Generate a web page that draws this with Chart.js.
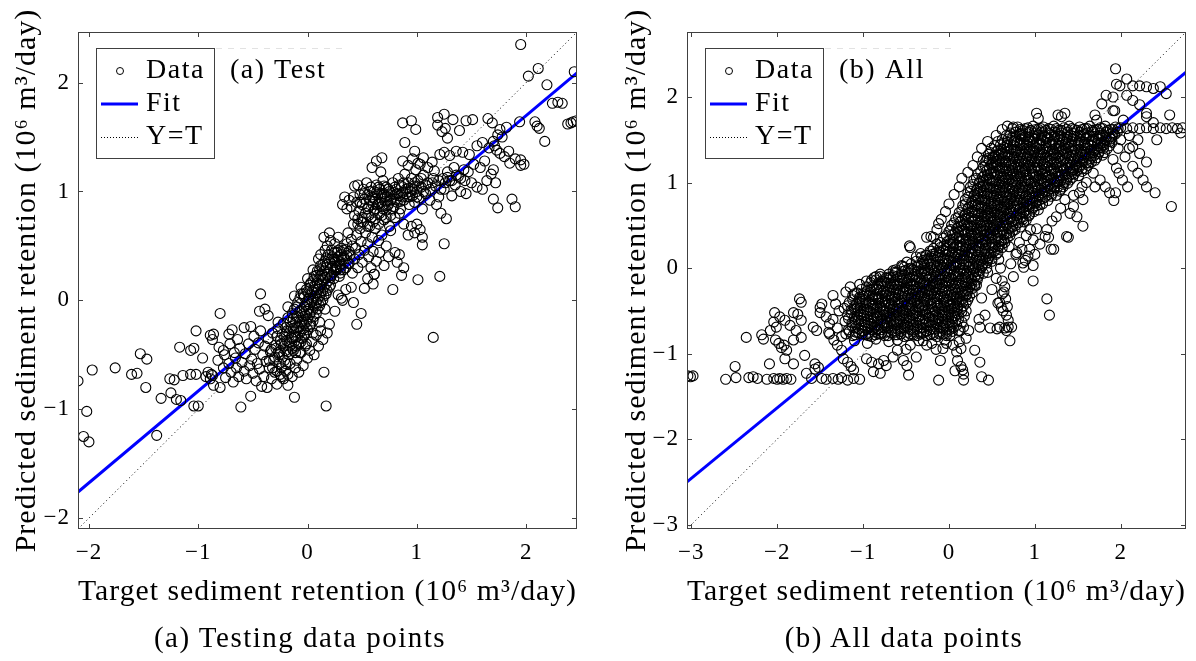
<!DOCTYPE html>
<html>
<head>
<meta charset="utf-8">
<script src="https://cdn.jsdelivr.net/npm/chart.js@4.4.0/dist/chart.umd.min.js"></script>
<style>
  html, body { margin: 0; padding: 0; background: #fff; }
  #wrap { position: relative; width: 1196px; height: 661px; overflow: hidden; }
  .pane { position: absolute; top: 0; width: 598px; height: 661px; }
  .cap { position: absolute; top: 621px; line-height: 33px; font-size: 29px; letter-spacing: 1.5px; font-family: 'Liberation Serif', 'DejaVu Serif', serif; color: #000; white-space: nowrap; transform: translateX(-50%); }
</style>
</head>
<body>
<div id="wrap">
  <div class="pane" style="left:0"><canvas id="testChart" width="598" height="661"></canvas></div>
  <div class="pane" style="left:598px"><canvas id="allChart" width="598" height="661"></canvas></div>
  <div class="cap" style="left:300px">(a) Testing data points</div>
  <div class="cap" style="left:904px">(b) All data points</div>
</div>
<script>
// ---------- (a) test set ----------
const testAxis = [-2.1, 2.465];          // axis equal, same limits on x and y
const testTicks = [-2, -1, 0, 1, 2];
const testFitY = [-1.76, 2.09];          // fit line at the two axis ends

const testTail = [[-2.10,-0.74],[-2.02,-1.02],[-2.05,-1.25],[-2.00,-1.30],[-1.97,-0.64],[-1.76,-0.62],[-1.61,-0.68],[-1.56,-0.67],[-1.53,-0.49],[-1.47,-0.54],[-1.48,-0.80],[-1.38,-1.24],[-1.34,-0.90],[-1.26,-0.72],[-1.22,-0.73],[-1.25,-0.85],[-1.20,-0.91],[-1.16,-0.92],[-1.17,-0.43],[-1.14,-0.69],[-1.07,-0.46],[-1.04,-0.44],[-1.04,-0.97],[-1.00,-0.97],[-1.07,-0.68],[-1.02,-0.68],[-1.02,-0.28],[-0.96,-0.53]];

const testLow = [[-0.93,-0.70],[-0.91,-0.66],[-0.89,-0.72],[-0.88,-0.68],[-0.87,-0.69],[-0.89,-0.32],[-0.87,-0.36],[-0.86,-0.31],[-0.86,-0.78],[-0.82,-0.55],[-0.80,-0.12],[-0.80,-0.80],[-0.81,-0.43],[-0.77,-0.46],[-0.77,-0.62],[-0.76,-0.50],[-0.75,-0.71],[-0.72,-0.31],[-0.72,-0.58],[-0.71,-0.40],[-0.70,-0.66],[-0.69,-0.27],[-0.68,-0.75],[-0.67,-0.48],[-0.66,-0.53],[-0.65,-0.62],[-0.64,-0.36],[-0.63,-0.70],[-0.62,-0.44],[-0.61,-0.98],[-0.60,-0.57],[-0.58,-0.25],[-0.58,-0.65],[-0.57,-0.49],[-0.56,-0.72],[-0.54,-0.40],[-0.53,-0.60],[-0.52,-0.24],[-0.52,-0.88],[-0.51,-0.54],[-0.50,-0.67],[-0.49,-0.33],[-0.48,-0.45],[-0.47,-0.74],[-0.46,-0.58],[-0.45,-0.39],[-0.44,-0.63],[-0.44,-0.10],[-0.43,0.06],[-0.43,-0.28],[-0.42,-0.79],[-0.41,-0.50],[-0.40,-0.70],[-0.39,-0.08],[-0.39,-0.42],[-0.38,-0.56],[-0.37,-0.80],[-0.36,-0.14],[-0.36,-0.35],[-0.35,-0.62],[-0.34,-0.47],[-0.33,-0.72],[-0.32,-0.30],[-0.31,-0.55],[-0.30,-0.66],[-0.29,-0.41],[-0.28,-0.77],[-0.27,-0.20],[-0.26,-0.50],[-0.25,-0.68],[-0.24,-0.62],[-0.22,-0.72],[-0.20,-0.65],[-0.18,-0.78],[-0.16,-0.58],[-0.14,-0.70],[-0.12,-0.89],[-0.11,-0.62],[-0.10,-0.55],[-0.08,-0.66],[-0.06,-0.48],[-0.04,-0.60],[-0.02,-0.42],[0.00,-0.53],[0.02,-0.46],[0.04,-0.38],[0.06,-0.50],[0.08,-0.32],[0.10,-0.42],[0.12,-0.28],[0.14,-0.36],[0.15,-0.66],[0.17,-0.97],[0.18,-0.30],[0.20,-0.22]];

const testCore = [[-0.30,-0.52],[-0.29,-0.44],[-0.28,-0.33],[-0.27,-0.26],[-0.26,-0.58],[-0.25,-0.47],[-0.24,-0.40],[-0.23,-0.31],[-0.22,-0.21],[-0.21,-0.55],[-0.20,-0.46],[-0.19,-0.37],[-0.19,-0.28],[-0.18,-0.16],[-0.17,-0.50],[-0.16,-0.42],[-0.15,-0.34],[-0.15,-0.24],[-0.14,-0.12],[-0.13,-0.46],[-0.12,-0.38],[-0.12,-0.29],[-0.11,-0.20],[-0.10,-0.06],[-0.10,-0.42],[-0.09,-0.33],[-0.08,-0.25],[-0.08,-0.15],[-0.07,0.02],[-0.06,-0.38],[-0.06,-0.28],[-0.05,-0.20],[-0.05,-0.10],[-0.04,0.06],[-0.03,-0.32],[-0.03,-0.22],[-0.02,-0.14],[-0.02,-0.04],[-0.01,0.10],[0.00,-0.27],[0.00,-0.17],[0.01,-0.08],[0.01,0.02],[0.02,0.14],[0.03,-0.22],[0.03,-0.11],[0.04,-0.01],[0.04,0.08],[0.05,0.18],[0.06,-0.15],[0.06,-0.05],[0.07,0.04],[0.07,0.13],[0.08,0.23],[0.09,-0.08],[0.09,0.01],[0.10,0.10],[0.10,0.19],[0.11,0.28],[0.12,-0.02],[0.12,0.07],[0.13,0.15],[0.13,0.24],[0.14,0.33],[0.15,0.04],[0.15,0.12],[0.16,0.21],[0.17,0.30],[0.17,0.39],[0.18,0.09],[0.19,0.18],[0.19,0.26],[0.20,0.35],[0.21,0.14],[0.22,0.23],[0.23,0.31],[0.23,0.40],[0.24,0.20],[0.26,0.28],[0.27,0.37],[0.28,0.46],[0.29,0.22],[0.30,0.33],[0.31,0.42],[0.33,0.28],[0.34,0.38],[0.35,0.47],[0.37,0.34],[0.39,0.42],[0.41,0.50],[-0.07,-0.48],[-0.01,-0.40],[0.05,-0.30],[0.11,-0.20],[0.16,-0.08],[-0.18,-0.06],[-0.12,0.04],[-0.06,0.12],[0.00,0.20],[0.05,0.28],[0.10,0.38],[0.16,0.46]];

const testCoreFill = [[-0.27,-0.48],[-0.25,-0.37],[-0.23,-0.52],[-0.22,-0.42],[-0.21,-0.33],[-0.20,-0.25],[-0.18,-0.47],[-0.17,-0.39],[-0.17,-0.30],[-0.16,-0.20],[-0.14,-0.44],[-0.14,-0.35],[-0.13,-0.26],[-0.13,-0.17],[-0.12,-0.08],[-0.11,-0.48],[-0.11,-0.34],[-0.10,-0.25],[-0.10,-0.15],[-0.09,-0.02],[-0.08,-0.40],[-0.07,-0.30],[-0.07,-0.20],[-0.07,-0.10],[-0.06,0.06],[-0.05,-0.35],[-0.04,-0.26],[-0.04,-0.15],[-0.03,-0.06],[-0.03,0.03],[-0.02,-0.30],[-0.01,-0.20],[-0.01,-0.10],[0.00,-0.01],[0.00,0.08],[0.02,-0.24],[0.02,-0.13],[0.02,-0.04],[0.03,0.05],[0.03,0.16],[0.05,-0.19],[0.05,-0.08],[0.05,0.02],[0.06,0.10],[0.06,0.22],[0.08,-0.12],[0.08,-0.02],[0.08,0.07],[0.09,0.16],[0.09,0.27],[0.11,-0.05],[0.11,0.04],[0.11,0.14],[0.12,0.22],[0.12,0.32],[0.14,0.00],[0.14,0.09],[0.14,0.19],[0.15,0.27],[0.16,0.36],[0.17,0.06],[0.17,0.15],[0.18,0.24],[0.18,0.33],[0.19,0.42],[0.20,0.12],[0.21,0.21],[0.21,0.29],[0.22,0.38],[0.24,0.26],[0.25,0.35],[0.25,0.44],[0.27,0.31],[0.28,0.40],[0.30,0.28],[0.32,0.37],[0.33,0.46],[0.36,0.41],[-0.35,-0.55],[-0.33,-0.45],[-0.32,-0.62],[-0.28,-0.65],[-0.24,-0.70],[-0.20,-0.58],[-0.18,-0.68]];

const testMid = [[0.12,0.42],[0.15,0.58],[0.18,0.50],[0.20,0.62],[0.21,0.55],[0.22,0.46],[0.24,0.38],[0.25,0.52],[0.26,0.30],[0.27,0.44],[0.28,0.58],[0.29,0.36],[0.30,0.25],[0.31,0.48],[0.32,0.88],[0.33,0.40],[0.34,0.95],[0.35,0.30],[0.36,0.52],[0.37,0.62],[0.38,0.45],[0.38,0.34],[0.40,0.56],[0.41,0.25],[0.42,0.70],[0.43,0.38],[0.44,0.48],[0.45,0.60],[0.46,0.75],[0.46,0.30],[0.47,0.42],[0.48,0.66],[0.49,0.54],[0.50,0.35],[0.51,0.72],[0.52,0.46],[0.53,0.62],[0.55,0.52],[0.56,0.40],[0.57,0.68],[0.58,0.30],[0.59,0.58],[0.60,0.45],[0.61,0.24],[0.62,0.66],[0.63,0.36],[0.65,0.55],[0.66,0.44],[0.68,0.60],[0.70,0.32],[0.72,0.50],[0.74,0.40],[0.76,0.64],[0.78,0.10],[0.80,0.44],[0.82,0.35],[0.84,0.42],[0.86,0.23],[0.88,0.30],[0.31,0.02],[0.32,0.00],[0.45,-0.22],[0.49,-0.12],[1.15,-0.34],[1.01,0.19],[1.21,0.22],[1.25,0.52],[1.05,0.51],[0.55,0.20],[0.60,0.15],[0.40,0.12],[0.35,0.10],[0.42,-0.02],[0.25,-0.10],[0.28,0.05],[0.52,0.11],[0.61,0.24]];

const testCluster = [[0.40,0.86],[0.42,0.95],[0.43,0.78],[0.45,0.90],[0.46,1.06],[0.47,0.82],[0.48,0.97],[0.49,0.72],[0.50,0.88],[0.51,1.02],[0.52,0.93],[0.53,0.80],[0.54,1.08],[0.55,0.97],[0.56,0.86],[0.57,0.92],[0.58,1.04],[0.58,0.76],[0.59,0.95],[0.60,0.88],[0.61,1.00],[0.62,0.84],[0.62,0.93],[0.63,1.06],[0.64,0.97],[0.65,0.89],[0.66,0.80],[0.66,1.02],[0.67,0.94],[0.68,0.86],[0.69,1.10],[0.70,0.98],[0.71,0.91],[0.72,0.83],[0.72,1.04],[0.73,0.95],[0.74,0.88],[0.75,1.00],[0.76,0.78],[0.77,0.93],[0.78,1.08],[0.79,0.86],[0.80,0.97],[0.81,1.02],[0.82,0.90],[0.83,1.12],[0.84,0.96],[0.85,0.84],[0.86,1.05],[0.87,0.99],[0.88,0.92],[0.89,1.16],[0.90,1.02],[0.91,0.95],[0.92,1.08],[0.93,0.88],[0.94,1.00],[0.95,1.12],[0.96,0.96],[0.97,1.05],[0.98,0.90],[0.99,1.20],[1.00,1.00],[1.01,1.10],[1.02,0.94],[1.03,1.25],[1.04,1.04],[1.05,0.84],[1.06,1.15],[1.08,0.98],[1.10,1.08],[0.95,0.68],[1.00,0.70],[1.03,0.65],[1.05,0.58],[0.88,0.70],[0.92,0.60],[0.98,0.62],[0.46,0.70],[0.50,0.76],[0.55,0.68],[0.60,0.72],[0.65,0.70],[0.70,0.74],[0.75,0.68],[0.80,0.76],[0.36,0.84],[0.38,0.92],[0.43,1.05]];

const testClusterFill = [[0.48,0.90],[0.52,0.98],[0.55,0.84],[0.57,1.00],[0.60,0.94],[0.61,0.82],[0.63,0.99],[0.64,0.88],[0.65,1.04],[0.67,0.90],[0.68,0.98],[0.69,0.84],[0.70,1.05],[0.71,0.95],[0.73,0.87],[0.74,1.02],[0.76,0.92],[0.77,0.98],[0.78,0.84],[0.80,1.04],[0.81,0.93],[0.82,0.98],[0.84,1.06],[0.85,0.91],[0.87,0.95],[0.88,1.08],[0.90,0.98],[0.92,1.03],[0.93,0.95],[0.96,1.02],[0.98,1.08],[1.00,0.95],[1.02,1.05],[1.04,1.12],[1.06,1.00],[1.08,1.06],[1.12,1.02],[1.14,1.08],[1.17,1.05],[1.20,1.10],[1.22,1.02],[1.26,1.08],[1.28,1.13],[1.32,1.10],[1.36,1.15],[1.40,1.12],[1.44,1.10],[0.56,0.78],[0.62,0.75],[0.68,0.78],[0.72,0.76],[0.84,0.80]];

const testUpper = [[0.87,1.63],[0.95,1.65],[0.99,1.57],[0.89,1.45],[0.98,1.37],[0.63,1.28],[0.68,1.31],[0.59,1.22],[0.67,1.18],[0.87,1.28],[0.92,1.24],[0.96,1.30],[1.01,1.26],[1.06,1.31],[1.10,1.22],[1.14,1.27],[1.16,1.19],[1.19,1.68],[1.25,1.71],[1.33,1.66],[1.39,1.56],[1.45,1.65],[1.51,1.66],[1.65,1.67],[1.69,1.63],[1.76,1.57],[1.82,1.59],[1.94,1.64],[1.19,1.61],[1.23,1.55],[1.28,1.49],[1.26,1.58],[1.21,1.34],[1.25,1.36],[1.30,1.33],[1.36,1.37],[1.42,1.36],[1.48,1.34],[1.55,1.42],[1.60,1.45],[1.66,1.40],[1.70,1.46],[1.73,1.38],[1.78,1.50],[1.80,1.32],[1.85,1.26],[1.90,1.30],[1.98,1.25],[1.74,1.52],[1.71,1.42],[1.76,1.35],[1.64,1.10],[1.68,1.16],[1.70,1.20],[1.72,1.08],[1.55,1.04],[1.60,1.02],[1.35,1.06],[1.40,1.00],[1.45,0.98],[1.50,1.08],[1.30,1.10],[1.32,0.96],[1.25,1.02],[1.20,0.95],[1.15,1.12],[1.18,0.88],[1.22,0.80],[1.27,0.75],[1.12,0.92],[1.38,1.14],[1.43,1.20],[1.47,1.18],[1.52,1.25],[1.58,1.22],[1.62,1.28],[1.34,1.22],[1.28,1.18],[1.24,1.12],[1.70,0.93],[1.74,0.85],[1.87,0.93],[1.90,0.86],[1.84,1.37],[1.95,1.29],[1.95,1.24]];

const testRight = [[1.95,2.35],[2.02,2.06],[2.11,2.13],[2.19,1.98],[2.44,2.10],[2.24,1.81],[2.29,1.82],[2.33,1.81],[2.38,1.62],[2.41,1.63],[2.43,1.64],[2.46,1.65],[2.08,1.64],[2.12,1.58],[2.17,1.46],[2.10,1.60]];

// ---------- (b) all data ----------
const allAxis = [-3.05, 2.76];
const allTicks = [-3, -2, -1, 0, 1, 2];
const allFitY = [-2.50, 2.29];

const allBand = [
[-1.20,-0.77],[-1.12,-0.79],[-1.05,-0.76],[-0.97,-0.78],[-0.90,-0.80],[-0.82,-0.77],[-0.75,-0.79],[-0.67,-0.76],[-0.60,-0.78],[-0.52,-0.80],[-0.45,-0.77],[-0.37,-0.79],[-0.30,-0.76],[-0.22,-0.78],[-0.14,-0.80],[-0.07,-0.77],[0.01,-0.79],
[-1.17,-0.72],[-1.09,-0.70],[-1.01,-0.73],[-0.94,-0.71],[-0.86,-0.69],[-0.79,-0.72],[-0.71,-0.70],[-0.63,-0.73],[-0.56,-0.71],[-0.48,-0.69],[-0.41,-0.72],[-0.33,-0.70],[-0.26,-0.73],[-0.18,-0.71],[-0.10,-0.69],[-0.03,-0.72],[0.05,-0.70],[0.11,-0.73],
[-1.21,-0.62],[-1.13,-0.64],[-1.06,-0.61],[-0.98,-0.63],[-0.91,-0.65],[-0.83,-0.62],[-0.76,-0.64],[-0.68,-0.61],[-0.61,-0.63],[-0.53,-0.65],[-0.46,-0.62],[-0.38,-0.64],[-0.31,-0.61],[-0.23,-0.63],[-0.15,-0.65],[-0.08,-0.62],[0.00,-0.64],[0.08,-0.61],[0.15,-0.63],
[-1.18,-0.55],[-1.10,-0.57],[-1.03,-0.54],[-0.95,-0.56],[-0.88,-0.58],[-0.80,-0.55],[-0.72,-0.57],[-0.65,-0.54],[-0.57,-0.56],[-0.50,-0.58],[-0.42,-0.55],[-0.35,-0.57],[-0.27,-0.54],[-0.19,-0.56],[-0.12,-0.58],[-0.04,-0.55],[0.03,-0.57],[0.11,-0.54],[0.18,-0.56],
[-1.22,-0.47],[-1.14,-0.49],[-1.07,-0.46],[-0.99,-0.48],[-0.92,-0.50],[-0.84,-0.47],[-0.77,-0.49],[-0.69,-0.46],[-0.61,-0.48],[-0.54,-0.50],[-0.46,-0.47],[-0.39,-0.49],[-0.31,-0.46],[-0.24,-0.48],[-0.16,-0.50],[-0.08,-0.47],[-0.01,-0.49],[0.07,-0.46],[0.14,-0.48],[0.20,-0.50],
[-1.16,-0.40],[-1.08,-0.42],[-1.01,-0.39],[-0.93,-0.41],[-0.86,-0.43],[-0.78,-0.40],[-0.70,-0.42],[-0.63,-0.39],[-0.55,-0.41],[-0.48,-0.43],[-0.40,-0.40],[-0.33,-0.42],[-0.25,-0.39],[-0.17,-0.41],[-0.10,-0.43],[-0.02,-0.40],[0.05,-0.42],[0.13,-0.39],[0.20,-0.41],
[-1.12,-0.32],[-1.04,-0.34],[-0.97,-0.31],[-0.89,-0.33],[-0.82,-0.35],[-0.74,-0.32],[-0.66,-0.34],[-0.59,-0.31],[-0.51,-0.33],[-0.44,-0.35],[-0.36,-0.32],[-0.29,-0.34],[-0.21,-0.31],[-0.13,-0.33],[-0.06,-0.35],[0.02,-0.32],[0.09,-0.34],[0.17,-0.31],[0.24,-0.33],
[-1.02,-0.25],[-0.95,-0.27],[-0.87,-0.24],[-0.80,-0.26],[-0.72,-0.28],[-0.64,-0.25],[-0.57,-0.27],[-0.49,-0.24],[-0.42,-0.26],[-0.34,-0.28],[-0.27,-0.25],[-0.19,-0.27],[-0.11,-0.24],[-0.04,-0.26],[0.04,-0.28],[0.11,-0.25],[0.19,-0.27],[0.27,-0.24],
[-0.91,-0.17],[-0.83,-0.19],[-0.76,-0.16],[-0.68,-0.18],[-0.61,-0.20],[-0.53,-0.17],[-0.45,-0.19],[-0.38,-0.16],[-0.30,-0.18],[-0.23,-0.20],[-0.15,-0.17],[-0.08,-0.19],[0.00,-0.16],[0.08,-0.18],[0.15,-0.20],[0.23,-0.17],[0.30,-0.19],
[-0.80,-0.10],[-0.72,-0.12],[-0.65,-0.09],[-0.57,-0.11],[-0.50,-0.13],[-0.42,-0.10],[-0.35,-0.12],[-0.27,-0.09],[-0.19,-0.11],[-0.12,-0.13],[-0.04,-0.10],[0.03,-0.12],[0.11,-0.09],[0.19,-0.11],[0.26,-0.13],[0.34,-0.10],
[-0.62,-0.02],[-0.55,-0.04],[-0.47,-0.01],[-0.40,-0.03],[-0.32,-0.05],[-0.24,-0.02],[-0.17,-0.04],[-0.09,-0.01],[-0.02,-0.03],[0.06,-0.05],[0.13,-0.02],[0.21,-0.04],[0.29,-0.01],[0.36,-0.03]];

const allBandFill = [
[-1.16,-0.74],[-1.08,-0.75],[-1.01,-0.74],[-0.93,-0.75],[-0.86,-0.74],[-0.78,-0.75],[-0.71,-0.74],[-0.63,-0.75],[-0.56,-0.74],[-0.48,-0.75],[-0.41,-0.74],[-0.33,-0.75],[-0.26,-0.74],[-0.18,-0.75],[-0.11,-0.74],[-0.03,-0.75],[0.04,-0.74],
[-1.13,-0.67],[-1.05,-0.66],[-0.98,-0.67],[-0.90,-0.66],[-0.83,-0.67],[-0.75,-0.66],[-0.67,-0.67],[-0.60,-0.66],[-0.52,-0.67],[-0.45,-0.66],[-0.37,-0.67],[-0.30,-0.66],[-0.22,-0.67],[-0.14,-0.66],[-0.07,-0.67],[0.01,-0.66],[0.09,-0.67],
[-1.17,-0.59],[-1.09,-0.60],[-1.02,-0.59],[-0.94,-0.60],[-0.87,-0.59],[-0.79,-0.60],[-0.72,-0.59],[-0.64,-0.60],[-0.57,-0.59],[-0.49,-0.60],[-0.42,-0.59],[-0.34,-0.60],[-0.27,-0.59],[-0.19,-0.60],[-0.12,-0.59],[-0.04,-0.60],[0.04,-0.59],[0.11,-0.60],
[-1.14,-0.52],[-1.06,-0.51],[-0.99,-0.52],[-0.91,-0.51],[-0.84,-0.52],[-0.76,-0.51],[-0.69,-0.52],[-0.61,-0.51],[-0.53,-0.52],[-0.46,-0.51],[-0.38,-0.52],[-0.31,-0.51],[-0.23,-0.52],[-0.16,-0.51],[-0.08,-0.52],[0.00,-0.51],[0.07,-0.52],[0.15,-0.51],
[-1.18,-0.44],[-1.10,-0.45],[-1.03,-0.44],[-0.95,-0.45],[-0.88,-0.44],[-0.80,-0.45],[-0.73,-0.44],[-0.65,-0.45],[-0.58,-0.44],[-0.50,-0.45],[-0.43,-0.44],[-0.35,-0.45],[-0.28,-0.44],[-0.20,-0.45],[-0.13,-0.44],[-0.05,-0.45],[0.02,-0.44],[0.10,-0.45],[0.17,-0.44],
[-1.12,-0.37],[-1.04,-0.36],[-0.97,-0.37],[-0.89,-0.36],[-0.82,-0.37],[-0.74,-0.36],[-0.67,-0.37],[-0.59,-0.36],[-0.52,-0.37],[-0.44,-0.36],[-0.37,-0.37],[-0.29,-0.36],[-0.21,-0.37],[-0.14,-0.36],[-0.06,-0.37],[0.01,-0.36],[0.09,-0.37],[0.16,-0.36],[0.22,-0.37],
[-1.07,-0.29],[-0.99,-0.30],[-0.92,-0.29],[-0.84,-0.30],[-0.77,-0.29],[-0.69,-0.30],[-0.62,-0.29],[-0.54,-0.30],[-0.47,-0.29],[-0.39,-0.30],[-0.32,-0.29],[-0.24,-0.30],[-0.17,-0.29],[-0.09,-0.30],[-0.02,-0.29],[0.06,-0.30],[0.13,-0.29],[0.21,-0.30],[0.27,-0.29],
[-0.96,-0.22],[-0.89,-0.21],[-0.81,-0.22],[-0.74,-0.21],[-0.66,-0.22],[-0.59,-0.21],[-0.51,-0.22],[-0.44,-0.21],[-0.36,-0.22],[-0.29,-0.21],[-0.21,-0.22],[-0.14,-0.21],[-0.06,-0.22],[0.02,-0.21],[0.09,-0.22],[0.17,-0.21],[0.24,-0.22],[0.30,-0.21],
[-0.85,-0.14],[-0.78,-0.15],[-0.70,-0.14],[-0.63,-0.15],[-0.55,-0.14],[-0.48,-0.15],[-0.40,-0.14],[-0.33,-0.15],[-0.25,-0.14],[-0.18,-0.15],[-0.10,-0.14],[-0.03,-0.15],[0.05,-0.14],[0.12,-0.15],[0.20,-0.14],[0.27,-0.15],[0.33,-0.14],
[-0.70,-0.07],[-0.62,-0.06],[-0.55,-0.07],[-0.47,-0.06],[-0.40,-0.07],[-0.32,-0.06],[-0.25,-0.07],[-0.17,-0.06],[-0.10,-0.07],[-0.02,-0.06],[0.05,-0.07],[0.13,-0.06],[0.20,-0.07],[0.28,-0.06],[0.35,-0.07],[0.40,-0.06],
[-0.52,0.01],[-0.44,0.00],[-0.37,0.01],[-0.29,0.00],[-0.22,0.01],[-0.14,0.00],[-0.07,0.01],[0.01,0.00],[0.08,0.01],[0.16,0.00],[0.23,0.01],[0.31,0.00],[0.38,0.01],[0.44,0.00]];

// extra points inside the solid black part of the band
const allBandCore = [
[-1.09,-0.78],[-1.01,-0.77],[-0.94,-0.79],[-0.86,-0.78],[-0.79,-0.77],[-0.71,-0.79],[-0.63,-0.78],[-0.56,-0.77],[-0.48,-0.79],[-0.41,-0.78],[-0.33,-0.77],[-0.26,-0.79],[-0.18,-0.78],[-0.11,-0.77],[-0.03,-0.79],
[-1.05,-0.71],[-0.98,-0.70],[-0.90,-0.72],[-0.83,-0.71],[-0.75,-0.70],[-0.67,-0.72],[-0.60,-0.71],[-0.52,-0.70],[-0.45,-0.72],[-0.37,-0.71],[-0.30,-0.70],[-0.22,-0.72],[-0.14,-0.71],[-0.07,-0.70],[0.01,-0.72],
[-1.09,-0.63],[-1.02,-0.62],[-0.94,-0.64],[-0.87,-0.63],[-0.79,-0.62],[-0.72,-0.64],[-0.64,-0.63],[-0.57,-0.62],[-0.49,-0.64],[-0.42,-0.63],[-0.34,-0.62],[-0.27,-0.64],[-0.19,-0.63],[-0.12,-0.62],[-0.04,-0.64],[0.04,-0.63],
[-1.06,-0.56],[-0.99,-0.55],[-0.91,-0.57],[-0.84,-0.56],[-0.76,-0.55],[-0.69,-0.57],[-0.61,-0.56],[-0.53,-0.55],[-0.46,-0.57],[-0.38,-0.56],[-0.31,-0.55],[-0.23,-0.57],[-0.16,-0.56],[-0.08,-0.55],[-0.01,-0.57],[0.07,-0.56],
[-1.10,-0.48],[-1.03,-0.47],[-0.95,-0.49],[-0.88,-0.48],[-0.80,-0.47],[-0.73,-0.49],[-0.65,-0.48],[-0.58,-0.47],[-0.50,-0.49],[-0.43,-0.48],[-0.35,-0.47],[-0.28,-0.49],[-0.20,-0.48],[-0.12,-0.47],[-0.05,-0.49],[0.03,-0.48],[0.10,-0.47],
[-1.04,-0.41],[-0.97,-0.40],[-0.89,-0.42],[-0.82,-0.41],[-0.74,-0.40],[-0.67,-0.42],[-0.59,-0.41],[-0.52,-0.40],[-0.44,-0.42],[-0.37,-0.41],[-0.29,-0.40],[-0.21,-0.42],[-0.14,-0.41],[-0.06,-0.40],[0.01,-0.42],[0.09,-0.41],[0.16,-0.40],
[-1.00,-0.33],[-0.93,-0.32],[-0.85,-0.34],[-0.78,-0.33],[-0.70,-0.32],[-0.63,-0.34],[-0.55,-0.33],[-0.48,-0.32],[-0.40,-0.34],[-0.32,-0.33],[-0.25,-0.32],[-0.17,-0.34],[-0.10,-0.33],[-0.02,-0.32],[0.05,-0.34],[0.13,-0.33],[0.20,-0.32],
[-0.91,-0.26],[-0.84,-0.25],[-0.76,-0.27],[-0.68,-0.26],[-0.61,-0.25],[-0.53,-0.27],[-0.46,-0.26],[-0.38,-0.25],[-0.31,-0.27],[-0.23,-0.26],[-0.15,-0.25],[-0.08,-0.27],[0.00,-0.26],[0.07,-0.25],[0.15,-0.27],[0.22,-0.26],
[-0.79,-0.18],[-0.72,-0.17],[-0.64,-0.19],[-0.57,-0.18],[-0.49,-0.17],[-0.42,-0.19],[-0.34,-0.18],[-0.27,-0.17],[-0.19,-0.19],[-0.11,-0.18],[-0.04,-0.17],[0.04,-0.19],[0.11,-0.18],[0.19,-0.17],[0.26,-0.19],
[-0.68,-0.11],[-0.61,-0.10],[-0.53,-0.12],[-0.46,-0.11],[-0.38,-0.10],[-0.31,-0.12],[-0.23,-0.11],[-0.15,-0.10],[-0.08,-0.12],[0.00,-0.11],[0.07,-0.10],[0.15,-0.12],[0.22,-0.11],[0.30,-0.10],
[-0.51,-0.03],[-0.43,-0.02],[-0.36,-0.04],[-0.28,-0.03],[-0.20,-0.02],[-0.13,-0.04],[-0.05,-0.03],[0.02,-0.02],[0.10,-0.04],[0.17,-0.03],[0.25,-0.02],[0.32,-0.04]];

const allSteep = [
[-0.44,0.05],[-0.36,0.03],[-0.29,0.06],[-0.21,0.04],[-0.14,0.02],[-0.06,0.05],[0.02,0.03],[0.09,0.06],[0.17,0.04],[0.24,0.02],[0.32,0.05],[0.39,0.03],[0.44,0.06],
[-0.32,0.13],[-0.25,0.11],[-0.17,0.14],[-0.10,0.12],[-0.02,0.10],[0.06,0.13],[0.13,0.11],[0.21,0.14],[0.28,0.12],[0.36,0.10],[0.43,0.13],[0.50,0.11],
[-0.22,0.20],[-0.15,0.18],[-0.07,0.21],[0.00,0.19],[0.08,0.17],[0.15,0.20],[0.23,0.18],[0.31,0.21],[0.38,0.19],[0.46,0.17],[0.53,0.20],[0.57,0.18],
[-0.14,0.28],[-0.06,0.26],[0.01,0.29],[0.09,0.27],[0.16,0.25],[0.24,0.28],[0.31,0.26],[0.39,0.29],[0.47,0.27],[0.54,0.25],[0.62,0.28],
[-0.06,0.35],[0.01,0.33],[0.09,0.36],[0.16,0.34],[0.24,0.32],[0.31,0.35],[0.39,0.33],[0.46,0.36],[0.54,0.34],[0.61,0.32],[0.68,0.35],
[0.00,0.43],[0.07,0.41],[0.15,0.44],[0.22,0.42],[0.30,0.40],[0.37,0.43],[0.45,0.41],[0.52,0.44],[0.60,0.42],[0.67,0.40],[0.74,0.43],
[0.03,0.50],[0.11,0.48],[0.18,0.51],[0.26,0.49],[0.33,0.47],[0.41,0.50],[0.48,0.48],[0.56,0.51],[0.63,0.49],[0.71,0.47],[0.78,0.50],[0.83,0.48],
[0.08,0.58],[0.15,0.56],[0.23,0.59],[0.30,0.57],[0.38,0.55],[0.45,0.58],[0.53,0.56],[0.60,0.59],[0.68,0.57],[0.75,0.55],[0.83,0.58],[0.90,0.56],
[0.12,0.65],[0.19,0.63],[0.27,0.66],[0.34,0.64],[0.42,0.62],[0.49,0.65],[0.57,0.63],[0.64,0.66],[0.72,0.64],[0.79,0.62],[0.87,0.65],[0.94,0.63],[0.99,0.66],
[0.16,0.73],[0.23,0.71],[0.31,0.74],[0.38,0.72],[0.46,0.70],[0.53,0.73],[0.61,0.71],[0.68,0.74],[0.76,0.72],[0.83,0.70],[0.91,0.73],[0.98,0.71],[1.06,0.74],
[0.19,0.80],[0.27,0.78],[0.34,0.81],[0.42,0.79],[0.49,0.77],[0.57,0.80],[0.64,0.78],[0.72,0.81],[0.79,0.79],[0.87,0.77],[0.94,0.80],[1.02,0.78],[1.09,0.81],[1.15,0.79]];

const allSteepFill = [
[-0.38,0.08],[-0.30,0.09],[-0.23,0.08],[-0.15,0.09],[-0.08,0.08],[0.00,0.09],[0.07,0.08],[0.15,0.09],[0.22,0.08],[0.30,0.09],[0.37,0.08],[0.45,0.09],[0.50,0.08],
[-0.27,0.15],[-0.19,0.16],[-0.12,0.15],[-0.04,0.16],[0.03,0.15],[0.11,0.16],[0.18,0.15],[0.26,0.16],[0.33,0.15],[0.41,0.16],[0.48,0.15],[0.55,0.16],
[-0.18,0.23],[-0.10,0.24],[-0.03,0.23],[0.05,0.24],[0.12,0.23],[0.20,0.24],[0.27,0.23],[0.35,0.24],[0.42,0.23],[0.50,0.24],[0.57,0.23],[0.62,0.24],
[-0.10,0.30],[-0.02,0.31],[0.05,0.30],[0.13,0.31],[0.20,0.30],[0.28,0.31],[0.35,0.30],[0.43,0.31],[0.50,0.30],[0.58,0.31],[0.65,0.30],
[-0.03,0.38],[0.04,0.39],[0.12,0.38],[0.19,0.39],[0.27,0.38],[0.34,0.39],[0.42,0.38],[0.49,0.39],[0.57,0.38],[0.64,0.39],[0.71,0.38],
[0.02,0.45],[0.09,0.46],[0.17,0.45],[0.24,0.46],[0.32,0.45],[0.39,0.46],[0.47,0.45],[0.54,0.46],[0.62,0.45],[0.69,0.46],[0.77,0.45],
[0.06,0.53],[0.13,0.54],[0.21,0.53],[0.28,0.54],[0.36,0.53],[0.43,0.54],[0.51,0.53],[0.58,0.54],[0.66,0.53],[0.73,0.54],[0.81,0.53],[0.87,0.54],
[0.11,0.60],[0.18,0.61],[0.26,0.60],[0.33,0.61],[0.41,0.60],[0.48,0.61],[0.56,0.60],[0.63,0.61],[0.71,0.60],[0.78,0.61],[0.86,0.60],[0.93,0.61],
[0.15,0.68],[0.22,0.69],[0.30,0.68],[0.37,0.69],[0.45,0.68],[0.52,0.69],[0.60,0.68],[0.67,0.69],[0.75,0.68],[0.82,0.69],[0.90,0.68],[0.97,0.69],[1.04,0.68],
[0.19,0.75],[0.26,0.76],[0.34,0.75],[0.41,0.76],[0.49,0.75],[0.56,0.76],[0.64,0.75],[0.71,0.76],[0.79,0.75],[0.86,0.76],[0.94,0.75],[1.01,0.76],[1.09,0.75]];

const allSteepCore = [
[-0.32,0.04],[-0.25,0.05],[-0.17,0.03],[-0.10,0.04],[-0.02,0.05],[0.05,0.03],[0.13,0.04],[0.20,0.05],[0.28,0.03],[0.35,0.04],
[-0.21,0.12],[-0.13,0.13],[-0.06,0.11],[0.02,0.12],[0.09,0.13],[0.17,0.11],[0.24,0.12],[0.32,0.13],[0.39,0.11],[0.46,0.12],
[-0.11,0.19],[-0.03,0.20],[0.04,0.18],[0.12,0.19],[0.19,0.20],[0.27,0.18],[0.34,0.19],[0.42,0.20],[0.49,0.18],
[-0.02,0.27],[0.05,0.28],[0.13,0.26],[0.20,0.27],[0.28,0.28],[0.35,0.26],[0.43,0.27],[0.50,0.28],[0.58,0.26],
[0.05,0.34],[0.12,0.35],[0.20,0.33],[0.27,0.34],[0.35,0.35],[0.42,0.33],[0.50,0.34],[0.57,0.35],[0.64,0.33],
[0.11,0.42],[0.18,0.43],[0.26,0.41],[0.33,0.42],[0.41,0.43],[0.48,0.41],[0.56,0.42],[0.63,0.43],[0.70,0.41],
[0.14,0.49],[0.22,0.50],[0.29,0.48],[0.37,0.49],[0.44,0.50],[0.52,0.48],[0.59,0.49],[0.67,0.50],[0.74,0.48],
[0.19,0.57],[0.26,0.58],[0.34,0.56],[0.41,0.57],[0.49,0.58],[0.56,0.56],[0.64,0.57],[0.71,0.58],[0.79,0.56],[0.86,0.57],
[0.23,0.64],[0.30,0.65],[0.38,0.63],[0.45,0.64],[0.53,0.65],[0.60,0.63],[0.68,0.64],[0.75,0.65],[0.83,0.63],[0.90,0.64],
[0.27,0.72],[0.34,0.73],[0.42,0.71],[0.49,0.72],[0.57,0.73],[0.64,0.71],[0.72,0.72],[0.79,0.73],[0.87,0.71],[0.94,0.72],[1.02,0.73],
[0.31,0.79],[0.38,0.80],[0.46,0.78],[0.53,0.79],[0.61,0.80],[0.68,0.78],[0.76,0.79],[0.83,0.80],[0.91,0.78],[0.98,0.79],[1.06,0.80]];

const allUpper = [
[0.22,0.88],[0.30,0.86],[0.37,0.89],[0.45,0.87],[0.52,0.85],[0.60,0.88],[0.67,0.86],[0.75,0.89],[0.82,0.87],[0.90,0.85],[0.97,0.88],[1.05,0.86],[1.12,0.89],[1.20,0.87],[1.25,0.85],
[0.25,0.95],[0.33,0.93],[0.40,0.96],[0.48,0.94],[0.55,0.92],[0.63,0.95],[0.70,0.93],[0.78,0.96],[0.85,0.94],[0.93,0.92],[1.00,0.95],[1.08,0.93],[1.15,0.96],[1.23,0.94],[1.30,0.92],[1.33,0.95],
[0.29,1.03],[0.36,1.01],[0.44,1.04],[0.51,1.02],[0.59,1.00],[0.66,1.03],[0.74,1.01],[0.81,1.04],[0.89,1.02],[0.96,1.00],[1.04,1.03],[1.11,1.01],[1.19,1.04],[1.26,1.02],[1.34,1.00],[1.41,1.03],
[0.34,1.10],[0.41,1.08],[0.49,1.11],[0.56,1.09],[0.64,1.07],[0.71,1.10],[0.79,1.08],[0.86,1.11],[0.94,1.09],[1.01,1.07],[1.09,1.10],[1.16,1.08],[1.24,1.11],[1.31,1.09],[1.39,1.07],[1.46,1.10],[1.51,1.08],
[0.40,1.18],[0.47,1.16],[0.55,1.19],[0.62,1.17],[0.70,1.15],[0.77,1.18],[0.85,1.16],[0.92,1.19],[1.00,1.17],[1.07,1.15],[1.15,1.18],[1.22,1.16],[1.30,1.19],[1.37,1.17],[1.45,1.15],[1.52,1.18],[1.60,1.16],
[0.43,1.25],[0.51,1.23],[0.58,1.26],[0.66,1.24],[0.73,1.22],[0.81,1.25],[0.88,1.23],[0.96,1.26],[1.03,1.24],[1.11,1.22],[1.18,1.25],[1.26,1.23],[1.33,1.26],[1.41,1.24],[1.48,1.22],[1.56,1.25],[1.63,1.23],[1.70,1.26],
[0.46,1.33],[0.54,1.31],[0.61,1.34],[0.69,1.32],[0.76,1.30],[0.84,1.33],[0.91,1.31],[0.99,1.34],[1.06,1.32],[1.14,1.30],[1.21,1.33],[1.29,1.31],[1.36,1.34],[1.44,1.32],[1.51,1.30],[1.59,1.33],[1.66,1.31],[1.74,1.34],[1.79,1.32],
[0.49,1.40],[0.57,1.38],[0.64,1.41],[0.72,1.39],[0.79,1.37],[0.87,1.40],[0.94,1.38],[1.02,1.41],[1.09,1.39],[1.17,1.37],[1.24,1.40],[1.32,1.38],[1.39,1.41],[1.47,1.39],[1.54,1.37],[1.62,1.40],[1.69,1.38],[1.77,1.41],[1.84,1.39],
[0.57,1.48],[0.64,1.46],[0.72,1.49],[0.79,1.47],[0.87,1.45],[0.94,1.48],[1.02,1.46],[1.09,1.49],[1.17,1.47],[1.24,1.45],[1.32,1.48],[1.39,1.46],[1.47,1.49],[1.54,1.47],[1.62,1.45],[1.69,1.48],[1.77,1.46],[1.84,1.49],[1.90,1.47],
[0.67,1.55],[0.74,1.53],[0.82,1.56],[0.89,1.54],[0.97,1.52],[1.04,1.55],[1.12,1.53],[1.19,1.56],[1.27,1.54],[1.34,1.52],[1.42,1.55],[1.49,1.53],[1.57,1.56],[1.64,1.54],[1.72,1.52],[1.79,1.55],[1.87,1.53],[1.93,1.56],
[0.74,1.63],[0.80,1.65],[0.86,1.61],[0.92,1.64],[0.98,1.66],[1.04,1.62],[1.10,1.65],[1.16,1.63],[1.22,1.66],[1.28,1.61],[1.34,1.64],[1.40,1.66],[1.46,1.62],[1.52,1.65],[1.58,1.63],[1.64,1.66],[1.70,1.61],[1.76,1.64],[1.82,1.66],[1.88,1.62],[1.94,1.65],[2.00,1.64]];

const allUpperFill = [
[0.22,0.83],[0.29,0.84],[0.37,0.83],[0.44,0.84],[0.52,0.83],[0.59,0.84],[0.67,0.83],[0.74,0.84],[0.82,0.83],[0.89,0.84],[0.97,0.83],[1.04,0.84],[1.12,0.83],[1.19,0.84],
[0.25,0.90],[0.32,0.91],[0.40,0.90],[0.47,0.91],[0.55,0.90],[0.62,0.91],[0.70,0.90],[0.77,0.91],[0.85,0.90],[0.92,0.91],[1.00,0.90],[1.07,0.91],[1.15,0.90],[1.22,0.91],[1.29,0.90],
[0.28,0.98],[0.35,0.99],[0.43,0.98],[0.50,0.99],[0.58,0.98],[0.65,0.99],[0.73,0.98],[0.80,0.99],[0.88,0.98],[0.95,0.99],[1.03,0.98],[1.10,0.99],[1.18,0.98],[1.25,0.99],[1.33,0.98],[1.38,0.99],
[0.32,1.05],[0.39,1.06],[0.47,1.05],[0.54,1.06],[0.62,1.05],[0.69,1.06],[0.77,1.05],[0.84,1.06],[0.92,1.05],[0.99,1.06],[1.07,1.05],[1.14,1.06],[1.22,1.05],[1.29,1.06],[1.37,1.05],[1.44,1.06],
[0.37,1.13],[0.44,1.14],[0.52,1.13],[0.59,1.14],[0.67,1.13],[0.74,1.14],[0.82,1.13],[0.89,1.14],[0.97,1.13],[1.04,1.14],[1.12,1.13],[1.19,1.14],[1.27,1.13],[1.34,1.14],[1.42,1.13],[1.49,1.14],[1.55,1.13],
[0.42,1.20],[0.49,1.21],[0.57,1.20],[0.64,1.21],[0.72,1.20],[0.79,1.21],[0.87,1.20],[0.94,1.21],[1.02,1.20],[1.09,1.21],[1.17,1.20],[1.24,1.21],[1.32,1.20],[1.39,1.21],[1.47,1.20],[1.54,1.21],[1.62,1.20],
[0.45,1.28],[0.52,1.29],[0.60,1.28],[0.67,1.29],[0.75,1.28],[0.82,1.29],[0.90,1.28],[0.97,1.29],[1.05,1.28],[1.12,1.29],[1.20,1.28],[1.27,1.29],[1.35,1.28],[1.42,1.29],[1.50,1.28],[1.57,1.29],[1.65,1.28],[1.72,1.29],
[0.48,1.35],[0.55,1.36],[0.63,1.35],[0.70,1.36],[0.78,1.35],[0.85,1.36],[0.93,1.35],[1.00,1.36],[1.08,1.35],[1.15,1.36],[1.23,1.35],[1.30,1.36],[1.38,1.35],[1.45,1.36],[1.53,1.35],[1.60,1.36],[1.68,1.35],[1.75,1.36],[1.81,1.35],
[0.53,1.43],[0.60,1.44],[0.68,1.43],[0.75,1.44],[0.83,1.43],[0.90,1.44],[0.98,1.43],[1.05,1.44],[1.13,1.43],[1.20,1.44],[1.28,1.43],[1.35,1.44],[1.43,1.43],[1.50,1.44],[1.58,1.43],[1.65,1.44],[1.73,1.43],[1.80,1.44],[1.87,1.43],
[0.62,1.50],[0.69,1.51],[0.77,1.50],[0.84,1.51],[0.92,1.50],[0.99,1.51],[1.07,1.50],[1.14,1.51],[1.22,1.50],[1.29,1.51],[1.37,1.50],[1.44,1.51],[1.52,1.50],[1.59,1.51],[1.67,1.50],[1.74,1.51],[1.82,1.50],[1.89,1.51],
[0.71,1.58],[0.78,1.59],[0.86,1.58],[0.93,1.59],[1.01,1.58],[1.08,1.59],[1.16,1.58],[1.23,1.59],[1.31,1.58],[1.38,1.59],[1.46,1.58],[1.53,1.59],[1.61,1.58],[1.68,1.59],[1.76,1.58],[1.83,1.59],[1.91,1.58],[1.96,1.59]];

const allUpperCore = [
[0.34,0.87],[0.41,0.88],[0.49,0.86],[0.56,0.87],[0.64,0.88],[0.71,0.86],[0.79,0.87],[0.86,0.88],[0.94,0.86],[1.01,0.87],[1.09,0.88],[1.16,0.86],
[0.37,0.94],[0.44,0.95],[0.52,0.93],[0.59,0.94],[0.67,0.95],[0.74,0.93],[0.82,0.94],[0.89,0.95],[0.97,0.93],[1.04,0.94],[1.12,0.95],[1.19,0.93],[1.26,0.94],
[0.40,1.02],[0.48,1.03],[0.55,1.01],[0.63,1.02],[0.70,1.03],[0.78,1.01],[0.85,1.02],[0.93,1.03],[1.00,1.01],[1.08,1.02],[1.15,1.03],[1.23,1.01],[1.30,1.02],[1.37,1.03],
[0.45,1.09],[0.53,1.10],[0.60,1.08],[0.68,1.09],[0.75,1.10],[0.83,1.08],[0.90,1.09],[0.98,1.10],[1.05,1.08],[1.13,1.09],[1.20,1.10],[1.28,1.08],[1.35,1.09],[1.43,1.10],
[0.51,1.17],[0.59,1.18],[0.66,1.16],[0.74,1.17],[0.81,1.18],[0.89,1.16],[0.96,1.17],[1.04,1.18],[1.11,1.16],[1.19,1.17],[1.26,1.18],[1.34,1.16],[1.41,1.17],[1.49,1.18],[1.55,1.16],
[0.55,1.24],[0.62,1.25],[0.70,1.23],[0.77,1.24],[0.85,1.25],[0.92,1.23],[1.00,1.24],[1.07,1.25],[1.15,1.23],[1.22,1.24],[1.30,1.25],[1.37,1.23],[1.45,1.24],[1.52,1.25],[1.60,1.23],[1.66,1.24],
[0.58,1.32],[0.65,1.33],[0.73,1.31],[0.80,1.32],[0.88,1.33],[0.95,1.31],[1.03,1.32],[1.10,1.33],[1.18,1.31],[1.25,1.32],[1.33,1.33],[1.40,1.31],[1.48,1.32],[1.55,1.33],[1.63,1.31],[1.70,1.32],
[0.61,1.39],[0.68,1.40],[0.76,1.38],[0.83,1.39],[0.91,1.40],[0.98,1.38],[1.06,1.39],[1.13,1.40],[1.21,1.38],[1.28,1.39],[1.36,1.40],[1.43,1.38],[1.51,1.39],[1.58,1.40],[1.66,1.38],[1.73,1.39],[1.80,1.40],
[0.68,1.47],[0.76,1.48],[0.83,1.46],[0.91,1.47],[0.98,1.48],[1.06,1.46],[1.13,1.47],[1.21,1.48],[1.28,1.46],[1.36,1.47],[1.43,1.48],[1.51,1.46],[1.58,1.47],[1.66,1.48],[1.73,1.46],[1.81,1.47],[1.87,1.48],
[0.78,1.54],[0.85,1.55],[0.93,1.53],[1.00,1.54],[1.08,1.55],[1.15,1.53],[1.23,1.54],[1.30,1.55],[1.38,1.53],[1.45,1.54],[1.53,1.55],[1.60,1.53],[1.68,1.54],[1.75,1.55],[1.83,1.53],[1.90,1.54],
[0.83,1.62],[0.89,1.63],[0.95,1.61],[1.01,1.62],[1.07,1.63],[1.13,1.61],[1.19,1.62],[1.25,1.63],[1.31,1.61],[1.37,1.62],[1.43,1.63],[1.49,1.61],[1.55,1.62],[1.61,1.63],[1.67,1.61],[1.73,1.62],[1.79,1.63],[1.85,1.61],[1.91,1.62],[1.97,1.63]];

const allTail = [[-3.04,-1.26],[-3.01,-1.27],[-2.98,-1.26],[-2.60,-1.30],[-2.48,-1.28],[-2.49,-1.15],[-2.36,-0.81],[-2.33,-1.28],[-2.28,-1.27],[-2.23,-1.29],[-2.18,-0.78],[-2.16,-0.83],[-2.12,-1.30],[-2.09,-1.12],[-2.08,-0.73],[-2.03,-0.52],[-2.04,-0.63],[-2.01,-0.69],[-2.04,-1.29],[-2.00,-1.30],[-1.97,-1.29],[-1.93,-1.30],[-1.89,-1.29],[-1.84,-1.30],[-1.97,-0.57],[-1.91,-0.61],[-1.85,-0.67],[-2.02,-0.84],[-1.98,-0.88],[-1.95,-0.93],[-1.92,-0.90],[-1.89,-0.96],[-1.91,-1.06],[-1.81,-1.12],[-1.81,-0.52],[-1.76,-0.54],[-1.72,-0.61],[-1.74,-0.36],[-1.72,-0.40],[-1.68,-1.02],[-1.66,-1.23],[-1.60,-1.29],[-1.78,-0.73],[-1.72,-0.81],[-1.81,-0.84],[-1.58,-0.69],[-1.54,-0.73],[-1.50,-0.46],[-1.48,-0.42],[-1.50,-0.52],[-1.56,-1.12],[-1.52,-1.16],[-1.56,-1.18],[-1.48,-1.29],[-1.43,-1.30],[-1.35,-1.29],[-1.29,-1.30],[-1.43,-0.57],[-1.39,-0.65],[-1.35,-0.32],[-1.39,-0.77],[-1.34,-0.84],[-1.30,-0.90],[-1.25,-0.96],[-1.23,-1.06],[-1.18,-1.10],[-1.14,-1.15],[-1.11,-1.19],[-1.25,-1.28],[-1.18,-1.31],[-1.11,-1.29],[-1.04,-1.30],[-0.96,-1.06],[-0.90,-1.10],[-0.82,-1.12],[-0.76,-1.08],[-0.73,-1.14],[-0.88,-1.21],[-0.80,-1.23],[-0.65,-1.04],[-0.60,-0.96],[-0.53,-1.08],[-0.49,-1.14],[-0.47,-1.25],[-0.38,-1.04],[-0.30,-0.85],[-0.26,-0.90],[-0.12,-1.31],[-0.10,-1.08],[-0.07,-0.94],[-0.03,-0.88],[0.07,-1.20],[0.10,-1.08],[0.14,-1.15],[0.16,-1.19],[0.17,-1.24],[0.17,-1.31],[0.30,-0.96],[0.36,-1.10],[0.38,-1.27],[0.46,-1.31],
[-1.10,-0.85],[-0.95,-0.88],[-0.85,-0.83],[-0.70,-0.86],[-0.60,-0.84],[-0.45,-0.90],[-0.35,-0.85],[-0.20,-0.88],[-0.05,-0.84],[0.05,-0.90],[0.12,-0.86],[0.20,-0.82],[-0.50,-0.95],[-0.15,-0.95],[0.09,-0.98],[0.14,-0.94],[-1.30,-0.70],[-1.35,-0.60],[-1.28,-0.50],[-1.32,-0.42],[-1.40,-0.75],[-1.25,-0.80]];

const allScatter = [[0.13,-0.73],[0.17,-0.69],[0.23,-0.73],[0.36,-0.69],[0.48,-0.70],[0.56,-0.71],[0.59,-0.69],[0.65,-0.70],[0.69,-0.69],[0.73,-0.69],[0.71,-0.85],[0.67,-0.73],[0.67,-0.55],[0.69,-0.61],[0.59,-0.40],[0.61,-0.46],[0.63,-0.50],[0.98,-0.15],[1.14,-0.36],[1.17,-0.55],
[0.32,-0.20],[0.38,-0.35],[0.45,-0.05],[0.50,-0.25],[0.42,-0.55],[0.35,-0.60],[0.55,-0.12],[0.60,0.00],[0.65,-0.22],[0.58,0.10],[0.72,0.05],[0.78,0.16],[0.75,-0.10],[0.62,-0.30],[0.57,-0.41],[0.62,-0.15],[0.64,-0.28],[0.66,-0.36],[0.68,-0.45],[0.87,0.01],[0.89,0.09],[0.92,0.14],[1.00,0.16],[0.98,0.03],[1.22,0.22],[1.39,0.36],[1.16,0.36],[1.06,0.28],[0.70,0.25],[0.82,0.30],[0.90,0.38],[0.85,0.22],[0.79,0.18],[0.86,0.06],[0.94,0.22],[0.98,0.33],[1.12,0.37],[1.14,0.45],[1.19,0.22],
[-1.04,-0.19],[-0.96,-0.15],[-0.90,-0.14],[-0.85,-0.10],[-0.80,-0.07],[-0.73,-0.11],[-0.65,-0.03],[-0.55,0.03],[-0.49,0.07],[-0.45,0.24],[-0.26,0.36],[-0.18,0.36],[-0.38,0.13],[-0.33,0.17],[-0.26,0.15],[-0.20,0.20],[-0.09,0.57],[-0.46,0.26],[-0.21,0.37],[-0.87,-0.11],[-0.65,-0.11],[-0.63,-0.05],[-0.54,0.02],[-1.20,-0.28],[-1.15,-0.22],[-1.10,-0.30],[-0.14,0.45],[-0.12,0.52],[-0.04,0.66],[0.00,0.75],[0.06,0.86],[0.12,0.95],[0.15,1.05],[0.22,1.12],[0.28,1.20],[0.33,1.30],[0.40,1.26],[0.47,1.26],[0.51,1.30],[0.55,1.22],[0.38,1.40],[0.45,1.48],[0.55,1.55],[0.62,1.62],[0.68,1.66],[0.75,1.65],[0.83,1.57],
[1.94,2.33],[1.95,2.15],[1.99,2.13],[2.07,2.21],[2.14,2.13],[2.22,2.13],[2.30,2.12],[2.38,2.10],[2.46,2.12],[2.53,2.04],[1.83,2.02],[1.91,2.00],[1.93,1.84],[1.78,1.92],[1.70,1.79],[1.72,1.73],[2.07,2.02],[2.14,1.96],[2.22,1.91],[2.30,1.81],[2.57,1.79],[1.35,1.81],[1.27,1.79],[1.02,1.81],[1.04,1.75],[1.31,1.77],[2.30,1.77],[2.38,1.70],[1.91,1.84],[2.03,1.73],[2.07,1.63],[2.14,1.64],[2.22,1.63],[2.30,1.64],[2.38,1.63],[2.46,1.64],[2.53,1.63],[2.60,1.64],[2.66,1.63],[2.72,1.64],[2.70,1.58],[2.42,1.50],[2.14,1.42],[2.22,1.34],[2.30,1.24],[2.14,1.19],[2.20,1.11],[2.26,1.03],[2.30,0.95],[2.40,0.88],[2.59,0.72],[1.91,1.27],[1.95,1.17],[1.98,1.11],[2.02,1.03],[2.08,0.95],[1.94,0.88],[1.92,0.79],[1.68,1.11],[1.76,1.03],[1.82,0.95],[1.87,0.88],[1.52,0.88],[1.56,0.80],[1.45,0.72],[1.41,0.64],[1.49,0.60],[1.56,0.49],[1.37,0.37],[2.05,1.30],[2.10,1.40],[2.00,1.50],[2.10,1.55],[2.20,1.50],[1.97,1.40],[1.60,1.00],[1.70,0.95],[1.55,0.95],[1.45,0.85],[1.35,0.80],[1.30,0.70],[1.25,0.60],[1.20,0.55],[1.02,0.46],[0.95,0.45]];

// ---------- drawing ----------
const serif = "'Liberation Serif', 'DejaVu Serif', serif";
const axisColor = '#404040';
const fmt = v => (v < 0 ? '\u2212' + Math.abs(v) : String(v));

// Computer Modern is wider than Times: open the letters up a little
const spacing = {
  id: 'spacing',
  beforeDraw(chart) { chart.ctx.letterSpacing = '1px'; }
};

// MATLAB style box: frame on all sides, ticks pointing inwards
const frame = {
  id: 'frame',
  afterDatasetsDraw(chart) {
    const { ctx, chartArea: a, scales: { x, y } } = chart;
    ctx.save();
    ctx.strokeStyle = axisColor;
    ctx.lineWidth = 1;
    ctx.strokeRect(a.left + 0.5, a.top + 0.5, a.right - a.left - 1, a.bottom - a.top - 1);
    ctx.beginPath();
    x.ticks.forEach(t => {
      const p = Math.round(x.getPixelForValue(t.value)) + 0.5;
      ctx.moveTo(p, a.bottom); ctx.lineTo(p, a.bottom - 5);
      ctx.moveTo(p, a.top); ctx.lineTo(p, a.top + 5);
    });
    y.ticks.forEach(t => {
      const p = Math.round(y.getPixelForValue(t.value)) + 0.5;
      ctx.moveTo(a.left, p); ctx.lineTo(a.left + 5, p);
      ctx.moveTo(a.right, p); ctx.lineTo(a.right - 5, p);
    });
    ctx.stroke();
    ctx.restore();
  }
};

const legendBox = {
  id: 'legendBox',
  afterDraw(chart, args, opts) {
    const { ctx, chartArea: a } = chart;
    const bx = a.left + 18, by = a.top + 16, bw = opts.w, bh = 110;
    ctx.save();
    // faint dashed edge of the hidden annotation box
    ctx.strokeStyle = '#e2e2e2';
    ctx.setLineDash([6, 6]);
    ctx.beginPath();
    ctx.moveTo(bx + bw + 2, by + 0.5); ctx.lineTo(bx + bw + 128, by + 0.5);
    ctx.stroke();
    ctx.setLineDash([]);
    ctx.fillStyle = '#fff';
    ctx.fillRect(bx, by, bw, bh);
    ctx.strokeStyle = axisColor;
    ctx.lineWidth = 1;
    ctx.strokeRect(bx + 0.5, by + 0.5, bw, bh);
    // Data marker
    ctx.strokeStyle = '#000';
    ctx.beginPath();
    ctx.arc(bx + 24, by + 23, 3.5, 0, Math.PI * 2);
    ctx.stroke();
    // Fit line
    ctx.strokeStyle = '#0000ff';
    ctx.lineWidth = 3;
    ctx.beginPath();
    ctx.moveTo(bx + 5, by + 56); ctx.lineTo(bx + 42, by + 56);
    ctx.stroke();
    // Y=T line
    ctx.strokeStyle = '#000';
    ctx.lineWidth = 1;
    ctx.setLineDash([1, 2]);
    ctx.beginPath();
    ctx.moveTo(bx + 5, by + 89.5); ctx.lineTo(bx + 42, by + 89.5);
    ctx.stroke();
    ctx.setLineDash([]);
    ctx.fillStyle = '#000';
    ctx.font = '28px ' + serif;
    ctx.letterSpacing = '1.5px';
    ctx.textBaseline = 'middle';
    ctx.fillText('Data', bx + 50, by + 23);
    ctx.fillText('Fit', bx + 50, by + 56);
    ctx.fillText('Y=T', bx + 50, by + 89);
    ctx.fillText(opts.tag, bx + bw + 16, by + 23);
    ctx.restore();
  }
};

function makeChart(id, pts, axis, ticks, fitY, box) {
  return new Chart(document.getElementById(id), {
    type: 'scatter',
    data: {
      // first dataset is painted last: the circles sit on top of both lines
      datasets: [
        { label: 'Data', data: pts.map(p => ({ x: p[0], y: p[1] })),
          pointRadius: 5, pointHoverRadius: 5, borderWidth: 1.1,
          borderColor: '#000', backgroundColor: 'rgba(0,0,0,0)' },
        { label: 'Fit', type: 'line', data: axis.map((v, i) => ({ x: v, y: fitY[i] })),
          borderColor: '#0000ff', borderWidth: 3, pointRadius: 0, tension: 0 },
        { label: 'Y=T', type: 'line', data: axis.map(v => ({ x: v, y: v })),
          borderColor: '#000', borderWidth: 1, borderDash: [1, 3], pointRadius: 0, tension: 0 }
      ]
    },
    options: {
      responsive: false,
      animation: false,
      events: [],
      layout: { padding: { left: 0, top: 32, right: box.right, bottom: 42 } },
      plugins: {
        legend: { display: false },
        tooltip: { enabled: false },
        legendBox: { w: box.legendW, tag: box.tag }
      },
      scales: {
        x: {
          type: 'linear', min: axis[0], max: axis[1],
          afterBuildTicks: s => { s.ticks = ticks.map(v => ({ value: v })); },
          afterFit: s => { s.height = 90; },
          grid: { display: false, drawTicks: false },
          border: { display: false },
          ticks: { color: '#000', font: { family: serif, size: 23 }, padding: 10, maxRotation: 0, callback: fmt },
          title: { display: true, text: 'Target sediment retention (10\u2076 m\u00b3/day)', color: '#000',
                   font: { family: serif, size: 30 }, padding: { top: 0, bottom: 9 } }
        },
        y: {
          type: 'linear', min: axis[0], max: axis[1],
          afterBuildTicks: s => { s.ticks = ticks.map(v => ({ value: v })); },
          afterFit: s => { s.width = box.yw; },
          grid: { display: false, drawTicks: false },
          border: { display: false },
          ticks: { color: '#000', font: { family: serif, size: 23 }, padding: 8, callback: fmt },
          title: { display: true, text: 'Predicted sediment retention (10\u2076 m\u00b3/day)', color: '#000',
                   font: { family: serif, size: 30 }, padding: { top: box.ytp, bottom: 0 } }
        }
      }
    },
    plugins: [spacing, frame, legendBox]
  });
}

const testPts = [].concat(testTail, testLow, testCore, testCoreFill, testMid, testCluster, testClusterFill, testUpper, testRight);
const allPts = [].concat(allTail, allBand, allBandFill, allBandCore, allSteep, allSteepFill, allSteepCore,
  allUpper, allUpperFill, allUpperCore, allScatter);

makeChart('testChart', testPts, testAxis, testTicks, testFitY,
  { right: 21, yw: 78, ytp: 9, legendW: 118, tag: '(a) Test' });
makeChart('allChart', allPts, allAxis, allTicks, allFitY,
  { right: 10, yw: 89, ytp: 21, legendW: 118, tag: '(b) All' });
</script>
</body>
</html>
